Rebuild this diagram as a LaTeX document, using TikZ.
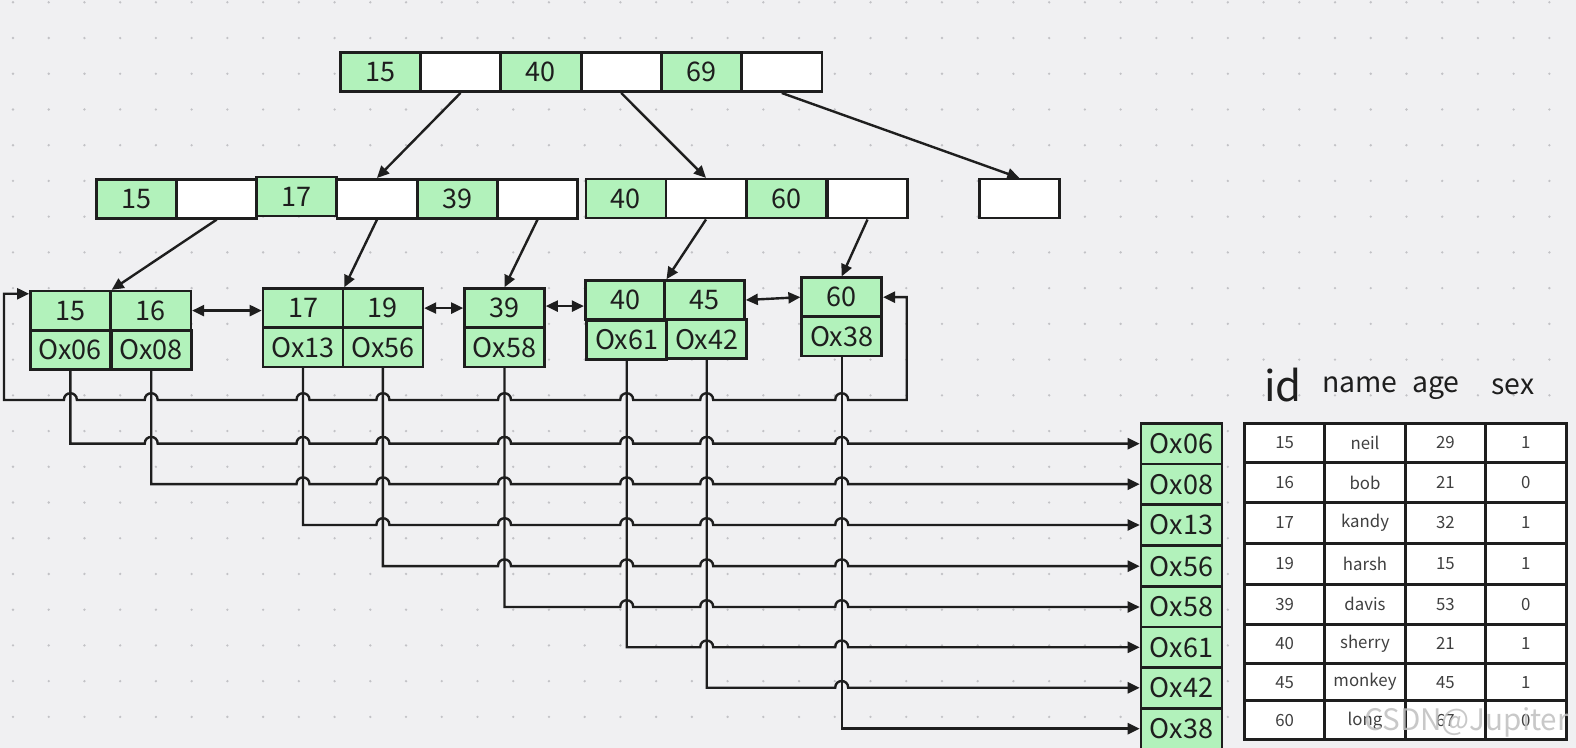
\documentclass[tikz,border=0pt]{standalone}
\usepackage{fontspec}
\setmainfont{Noto Sans CJK SC}
\usetikzlibrary{arrows.meta,calc}
\definecolor{ink}{HTML}{1E1E1E}
\definecolor{leaf}{HTML}{B2F2BB}
\definecolor{paper}{HTML}{F0F0F2}
\definecolor{griddot}{HTML}{C2C2C6}
\newcommand\cellfont{\fontsize{13.5pt}{15pt}\selectfont}
\newcommand\rowfont{\fontsize{8.4pt}{10pt}\selectfont}
\newcommand\headfont{\fontsize{14.2pt}{16pt}\selectfont}
\newcommand\idfont{\fontsize{21pt}{23pt}\selectfont}
% a small bridge where a horizontal line jumps over a vertical pointer line
\newcommand\hopR[2]{-- ($(#1.south |- #2)+(-6.5,0)$) .. controls +(0,-9) and +(0,-9) .. ($(#1.south |- #2)+(6.5,0)$)}
\newcommand\hopL[2]{-- ($(#1.south |- #2)+(6.5,0)$) .. controls +(0,-9) and +(0,-9) .. ($(#1.south |- #2)+(-6.5,0)$)}

\begin{document}
\begin{tikzpicture}[x=0.5pt,y=-0.5pt,
  keycell/.style={draw=ink, fill=leaf, line width=1.3pt, minimum width=40pt, minimum height=19.5pt, inner sep=0pt, text=ink, font=\cellfont},
  emptycell/.style={keycell, fill=white},
  addr/.style={keycell, minimum width=40.5pt, minimum height=20.3pt},
  rowcell/.style={draw=ink, fill=white, line width=1.5pt, minimum width=40.2pt, inner sep=0pt, text=ink!85, font=\rowfont},
  link/.style={draw=ink, line width=1.2pt, -{Triangle[length=6pt,width=5.5pt]}},
  twoway/.style={draw=ink, line width=1.2pt, {Triangle[length=6pt,width=5.5pt]}-{Triangle[length=6pt,width=5.5pt]}},
  head/.style={anchor=base, inner sep=0pt, text=ink, font=\headfont},
]
% canvas with dotted grid
\fill[paper] (0,0) rectangle (1576,748);
\useasboundingbox (0,0) rectangle (1576,748);
\foreach \i in {0,...,43}
  \foreach \j in {0,...,20}
    \fill[griddot] ({13+35.73*\i},{2.3+35.73*\j}) circle[radius=0.65pt];

% root
\node[keycell]   (r1) at (380.2,72.2) {15};
\node[emptycell] (r2) at (460.5,72.2) {};
\node[keycell]   (r3) at (540.8,72.2) {40};
\node[emptycell] (r4) at (621.2,72.2) {};
\node[keycell]   (r5) at (701.5,72.2) {69};
\node[emptycell] (r6) at (781.8,72.2) {};

% internal level
\node[keycell]   (a1) at (136.3,198.8) {15};
\node[emptycell] (a2) at (216.7,198.8) {};
\node[keycell]   (a3) at (296.7,196.7) {17};
\node[emptycell] (a4) at (377.0,198.8) {};
\node[keycell]   (a5) at (457.3,198.8) {39};
\node[emptycell] (a6) at (537.5,198.8) {};

\node[keycell]   (b1) at (625.8,198.7) {40};
\node[emptycell] (b2) at (706.0,198.7) {};
\node[keycell]   (b3) at (786.3,198.7) {60};
\node[emptycell] (b4) at (867.5,198.7) {};

\node[emptycell] (c1) at (1019.3,198.7) {};

% leaves: keys on top, record addresses below
\node[keycell] (k1) at (70.4,310.6) {15};
\node[keycell] (k2) at (150.8,310.6) {16};
\node[keycell] (p1) at (70.4,349.9) {Ox06};
\node[keycell] (p2) at (151.2,349.9) {Ox08};

\node[keycell] (k3) at (303.0,308.1) {17};
\node[keycell] (k4) at (382.9,308.1) {19};
\node[keycell] (p3) at (303.0,347.4) {Ox13};
\node[keycell] (p4) at (382.9,347.4) {Ox56};

\node[keycell] (k5) at (504.5,308.1) {39};
\node[keycell] (p5) at (504.5,347.4) {Ox58};

\node[keycell] (k6) at (625.2,300.0) {40};
\node[keycell] (k7) at (704.5,300.0) {45};
\node[keycell] (p6) at (626.7,340.0) {Ox61};
\node[keycell] (p7) at (706.7,339.3) {Ox42};

\node[keycell] (k8) at (841.7,297.2) {60};
\node[keycell] (p8) at (841.7,336.7) {Ox38};

% address column
\node[addr] (o1) at (1181.5,443.7) {Ox06};
\node[addr] (o2) at (1181.5,484.2) {Ox08};
\node[addr] (o3) at (1181.5,525.0) {Ox13};
\node[addr] (o4) at (1181.5,566.2) {Ox56};
\node[addr] (o5) at (1181.5,607.0) {Ox58};
\node[addr] (o6) at (1181.5,647.3) {Ox61};
\node[addr] (o7) at (1181.5,687.8) {Ox42};
\node[addr] (o8) at (1181.5,728.7) {Ox38};

% table header
\node[head, font=\idfont] (hid) at (1283,401.7) {id};
\node[head] (hname) at (1360,392.5) {name};
\node[head] (hage) at (1436,392.5) {age};
\node[head] (hsex) at (1513,394.5) {sex};

% table rows
\foreach \n/\y/\h/\id/\nm/\ag/\sx in {
  1/443.0/39.4/15/neil/29/1,
  2/482.7/40.0/16/bob/21/0,
  3/523.0/40.6/17/kandy/32/1,
  4/563.7/40.7/19/harsh/15/1,
  5/604.2/40.3/39/davis/53/0,
  6/643.8/39.5/40/sherry/21/1,
  7/682.2/37.7/45/monkey/45/1,
  8/720.5/39.0/60/long/67/0}{
  \node[rowcell, minimum height=\h*0.5pt] (t\n-1) at (1284.7,\y) {\id};
  \node[rowcell, minimum height=\h*0.5pt] (t\n-2) at (1365.0,\y) {\nm};
  \node[rowcell, minimum height=\h*0.5pt] (t\n-3) at (1445.4,\y) {\ag};
  \node[rowcell, minimum height=\h*0.5pt] (t\n-4) at (1525.8,\y) {\sx};
}

% child pointers
\draw[link] (r2.south) -- (a4.north);
\draw[link] (r4.south) -- (b2.north);
\draw[link] (r6.south) -- (c1.north);
\draw[link] (a2.south) -- (k1.north east);
\draw[link] (a4.south) -- (k3.north east);
\draw[link] (a6.south) -- (k5.north);
\draw[link] (b2.south) -- (k6.north east);
\draw[link] (b4.south) -- (k8.north);

% sibling links between leaves
\draw[twoway] (k2.east) -- (k3.west |- k2.east);
\draw[twoway] (k4.east) -- (k5.west);
\coordinate (j56) at ($(k5.east)+(0,-2)$);
\draw[twoway] (j56) -- (k6.west |- j56);
\draw[twoway] (k7.east) -- (k8.west);

% wrap-around link from the last leaf back to the first
\coordinate (loopR) at (906.7,400);
\coordinate (loopL) at (4,400);
\coordinate (l1in) at ($(k1.north west)+(0,4)$);
\draw[twoway] (k8.east) -- (k8.east -| loopR) -- (loopR)
  \hopL{p8}{loopR} \hopL{p7}{loopR} \hopL{p6}{loopR} \hopL{p5}{loopR}
  \hopL{p4}{loopR} \hopL{p3}{loopR} \hopL{p2}{loopR} \hopL{p1}{loopR}
  -- (loopL) -- (loopL |- l1in) -- (l1in);

% record pointers into the address column
\draw[link] (p1.south) -- (p1.south |- o1.west)
  \hopR{p2}{o1.west} \hopR{p3}{o1.west} \hopR{p4}{o1.west} \hopR{p5}{o1.west}
  \hopR{p6}{o1.west} \hopR{p7}{o1.west} \hopR{p8}{o1.west} -- (o1.west);
\draw[link] (p2.south) -- (p2.south |- o2.west)
  \hopR{p3}{o2.west} \hopR{p4}{o2.west} \hopR{p5}{o2.west}
  \hopR{p6}{o2.west} \hopR{p7}{o2.west} \hopR{p8}{o2.west} -- (o2.west);
\draw[link] (p3.south) -- (p3.south |- o3.west)
  \hopR{p4}{o3.west} \hopR{p5}{o3.west}
  \hopR{p6}{o3.west} \hopR{p7}{o3.west} \hopR{p8}{o3.west} -- (o3.west);
\draw[link] (p4.south) -- (p4.south |- o4.west)
  \hopR{p5}{o4.west}
  \hopR{p6}{o4.west} \hopR{p7}{o4.west} \hopR{p8}{o4.west} -- (o4.west);
\draw[link] (p5.south) -- (p5.south |- o5.west)
  \hopR{p6}{o5.west} \hopR{p7}{o5.west} \hopR{p8}{o5.west} -- (o5.west);
\draw[link] (p6.south) -- (p6.south |- o6.west)
  \hopR{p7}{o6.west} \hopR{p8}{o6.west} -- (o6.west);
\draw[link] (p7.south) -- (p7.south |- o7.west)
  \hopR{p8}{o7.west} -- (o7.west);
\draw[link] (p8.south) -- (p8.south |- o8.west) -- (o8.west);

% watermark
\node[anchor=base west, inner sep=0pt, text=black!25, opacity=0.85,
      font=\fontsize{14.8pt}{16pt}\selectfont] (mark) at (1364,731) {CSDN@Jupiter};
\end{tikzpicture}
\end{document}
